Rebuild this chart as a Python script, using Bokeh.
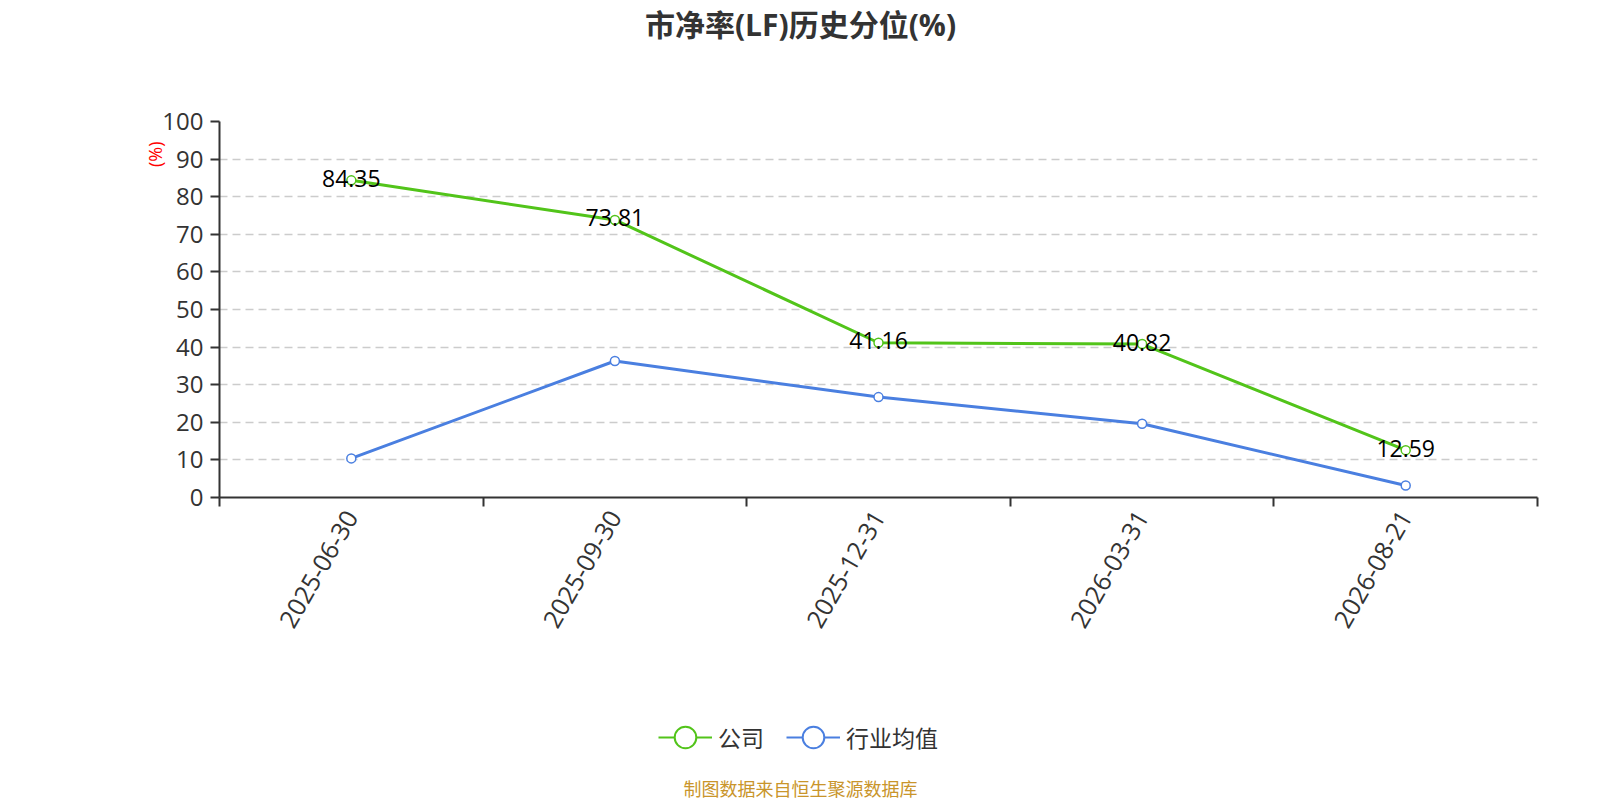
import math
from bokeh.plotting import figure
from bokeh.layouts import column
from bokeh.models import (ColumnDataSource, FixedTicker, Label, Legend, LegendItem,
                          Range1d, Title)
from bokeh.embed import file_html
from bokeh.resources import INLINE
from bokeh.core.properties import value

# ---------------- data ----------------
chart_title = "市净率(LF)历史分位(%)"
dates = ["2025-06-30", "2025-09-30", "2025-12-31", "2026-03-31", "2026-08-21"]
company = [84.35, 73.81, 41.16, 40.82, 12.59]
industry = [10.4, 36.3, 26.7, 19.6, 3.2]
series_names = ["公司", "行业均值"]
y_ticks = [0, 10, 20, 30, 40, 50, 60, 70, 80, 90, 100]
y_unit = "(%)"
source_note = "制图数据来自恒生聚源数据库"

# ---------------- style ----------------
FONT = "'Open Sans', 'Noto Sans CJK SC', sans-serif"
GREEN = "#52c41a"
BLUE = "#4a7fe0"
AXIS = "#333333"
W, H = 1600, 800
HT = 50                  # title figure
H1 = 640                 # main chart figure
H2 = H - HT - H1         # legend + source note figure
ML, MR = 219, 63
MT = 121 - HT
FH = 376
MB = H1 - MT - FH

xs = [i + 0.5 for i in range(len(dates))]
src = ColumnDataSource(dict(
    x=xs, company=company, industry=industry,
    company_label=["%.2f" % v for v in company],
))


def blank(height, yr):
    f = figure(width=W, height=height, output_backend="svg", toolbar_location=None,
               x_axis_type=None, y_axis_type=None,
               x_range=Range1d(0, 1), y_range=yr,
               min_border_left=0, min_border_right=0, min_border_top=0, min_border_bottom=0)
    f.grid.visible = False
    f.outline_line_color = None
    f.background_fill_color = "white"
    f.border_fill_color = "white"
    return f


# ---------------- title figure (frame aligned with main frame) ----------------
t = blank(HT, Range1d(0, 1))
t.add_layout(Label(x=800 - ML, y=HT - 23.5, x_units="screen", y_units="screen",
                   text=chart_title, text_align="center", text_baseline="middle",
                   text_font=FONT, text_font_size="30px", text_font_style="bold",
                   text_color="#333333"))

# ---------------- main chart ----------------
p = figure(width=W, height=H1, output_backend="svg", toolbar_location=None,
           x_range=Range1d(0, len(dates)), y_range=Range1d(0, 100),
           min_border_left=ML, min_border_right=MR,
           min_border_top=MT, min_border_bottom=MB)
p.outline_line_color = None
p.background_fill_color = "white"
p.border_fill_color = "white"

p.add_layout(Title(text=y_unit, align="right", offset=20, standoff=-14,
                   text_font=FONT, text_font_size="18px", text_font_style="normal",
                   text_color="#ff0000"), "left")

# x axis: labels at category centres, ticks at category boundaries
xticker = FixedTicker(ticks=xs, minor_ticks=list(range(len(dates) + 1)))
xa = p.xaxis[0]
xa.ticker = xticker
xa.major_label_overrides = {x: d for x, d in zip(xs, dates)}
xa.major_tick_line_color = None
xa.major_tick_in = 0
xa.major_tick_out = 0
xa.minor_tick_in = 0
xa.minor_tick_out = 9
xa.minor_tick_line_color = AXIS
xa.minor_tick_line_width = 2
xa.axis_line_color = AXIS
xa.axis_line_width = 2
xa.major_label_orientation = math.radians(60)
xa.major_label_text_font = FONT
xa.major_label_text_font_size = "25px"
xa.major_label_text_color = AXIS
xa.major_label_standoff = 6

ya = p.yaxis[0]
ya.ticker = FixedTicker(ticks=y_ticks)
ya.minor_tick_line_color = None
ya.major_tick_in = 0
ya.major_tick_out = 9
ya.major_tick_line_color = AXIS
ya.major_tick_line_width = 2
ya.axis_line_color = AXIS
ya.axis_line_width = 2
ya.major_label_text_font = FONT
ya.major_label_text_font_size = "24px"
ya.major_label_text_color = AXIS
ya.major_label_standoff = 7

p.xgrid.visible = False
p.ygrid.ticker = FixedTicker(ticks=y_ticks)
p.ygrid.grid_line_color = "#cccccc"
p.ygrid.grid_line_dash = "8 5"
p.ygrid.grid_line_width = 1.5

p.line(x="x", y="company", source=src, line_color=GREEN, line_width=3)
p.scatter(x="x", y="company", source=src, marker="circle", size=9,
          fill_color="white", line_color=GREEN, line_width=1.5)
p.line(x="x", y="industry", source=src, line_color=BLUE, line_width=3)
p.scatter(x="x", y="industry", source=src, marker="circle", size=9,
          fill_color="white", line_color=BLUE, line_width=1.5)

p.text(x="x", y="company", text="company_label", source=src,
       text_align="center", text_baseline="middle", y_offset=-2,
       text_font=value(FONT), text_font_size="23px", text_color="#000000")

# ---------------- legend + source note figure ----------------
# series renderers here fall outside the visible range; they only feed the legend
q = blank(H2, Range1d(-2, -1))
lc = q.line(x="x", y="company", source=src, line_color=GREEN, line_width=2)
mc = q.scatter(x="x", y="company", source=src, marker="circle",
               fill_color="white", line_color=GREEN, line_width=2)
li = q.line(x="x", y="industry", source=src, line_color=BLUE, line_width=2)
mi = q.scatter(x="x", y="industry", source=src, marker="circle",
               fill_color="white", line_color=BLUE, line_width=2)

top_q = HT + H1
GH = 56
legend = Legend(items=[
    LegendItem(label=series_names[0], renderers=[lc, mc]),
    LegendItem(label=series_names[1], renderers=[li, mi]),
], orientation="horizontal",
   location=(658 - ML, H2 - (737 - top_q) - GH // 2))
legend.padding = 0
legend.margin = 0
legend.spacing = 22
legend.glyph_width = 54
legend.glyph_height = GH
legend.label_height = 24
legend.label_standoff = 6
legend.border_line_color = None
legend.background_fill_alpha = 0
legend.label_text_font = FONT
legend.label_text_font_size = "23px"
legend.label_text_color = AXIS
q.add_layout(legend, "center")

q.add_layout(Label(x=800 - ML, y=H2 - (788 - top_q), x_units="screen", y_units="screen",
                   text=source_note, text_align="center", text_baseline="middle",
                   text_font=FONT, text_font_size="18px", text_color="#c9952b"))

layout = column(t, p, q, spacing=0)
open("out.html", "w").write(file_html(layout, INLINE))
